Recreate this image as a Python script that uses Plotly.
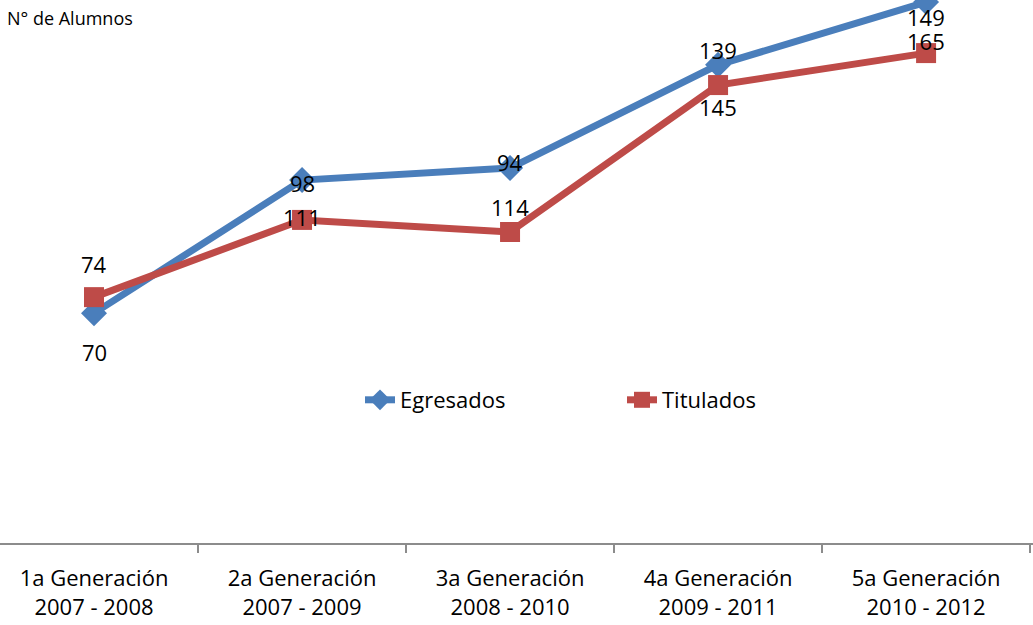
import plotly.graph_objects as go

categories = ["1a Generación<br>2007 - 2008", "2a Generación<br>2007 - 2009",
              "3a Generación<br>2008 - 2010", "4a Generación<br>2009 - 2011",
              "5a Generación<br>2010 - 2012"]
# plotted heights (hidden axis, 0-180)
egresados_y = [76.2, 120.3, 124.3, 158.5, 179.3]
titulados_y = [81.5, 107.1, 103.1, 151.8, 162.4]
# data labels as printed
egresados_lbl = ["70", "98", "94", "139", "149"]
titulados_lbl = ["74", "111", "114", "145", "165"]

BLUE = "#4A7EBB"
RED = "#BE4B48"
FONT = "Open Sans"

fig = go.Figure()
fig.add_trace(go.Scatter(x=categories, y=egresados_y, name="Egresados", mode="lines+markers",
                         line=dict(color=BLUE, width=7),
                         marker=dict(symbol="diamond", size=20, color=BLUE),
                         cliponaxis=False))
fig.add_trace(go.Scatter(x=categories, y=titulados_y, name="Titulados", mode="lines+markers",
                         line=dict(color=RED, width=7),
                         marker=dict(symbol="square", size=20, color=RED),
                         cliponaxis=False))

eg_shift = [-39, -3, 6, 15, -15]
ti_shift = [33, 3, 25, -22, 12]
for i, c in enumerate(categories):
    fig.add_annotation(x=c, y=egresados_y[i], text=egresados_lbl[i], showarrow=False,
                       yshift=eg_shift[i], font=dict(family=FONT, size=22, color="#000"))
    fig.add_annotation(x=c, y=titulados_y[i], text=titulados_lbl[i], showarrow=False,
                       yshift=ti_shift[i], font=dict(family=FONT, size=22, color="#000"))

fig.add_annotation(xref="paper", yref="paper", x=0, y=1, xanchor="left", yanchor="middle",
                   text="N° de Alumnos", showarrow=False, xshift=5, yshift=-18,
                   font=dict(family=FONT, size=18, color="#000"))

fig.update_layout(
    width=1033, height=625,
    margin=dict(l=0, r=0, t=0, b=82),
    paper_bgcolor="white", plot_bgcolor="white",
    font=dict(family=FONT, size=20, color="#000"),
    showlegend=True,
    legend=dict(orientation="h", x=360 / 1033, xanchor="left", y=(543 - 400) / 543, yanchor="middle",
                entrywidth=217, entrywidthmode="pixels",
                font=dict(family=FONT, size=22), bgcolor="rgba(0,0,0,0)"),
    xaxis=dict(type="category", range=[-0.452, 4.514], showgrid=False, zeroline=False,
               showline=True, linecolor="#8C8C8C", linewidth=2,
               ticks="outside", tickson="boundaries", ticklen=8, tickcolor="#8C8C8C", tickwidth=2,
               ticklabelstandoff=15,
               tickfont=dict(family=FONT, size=22)),
    yaxis=dict(range=[0, 180], visible=False),
)
fig.write_html("out.html", config={"displayModeBar": False},
               post_script="document.body.style.margin='0';")
